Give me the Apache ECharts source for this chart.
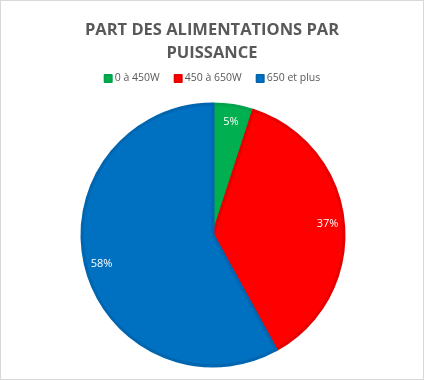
<!DOCTYPE html>
<html><head><meta charset="utf-8">
<script src="https://cdn.jsdelivr.net/npm/echarts@6/dist/echarts.min.js"></script>
<style>html,body{margin:0;padding:0;background:#fff}
#c{width:422px;height:378px;border:1px solid #D9D9D9}</style></head>
<body><div id="c"></div>
<script>
const categories = ['0 à 450W', '450 à 650W', '650 et plus'];
const values = [5, 37, 58];
const colors = ['#00B050', '#FF0000', '#0070C0'];
const borders = ['#00A34A', '#E60000', '#0066B0'];
const title = 'PART DES ALIMENTATIONS PAR\nPUISSANCE';

const chart = echarts.init(document.getElementById('c'));
const data = categories.map((n, i) => ({name: n, value: values[i],
  itemStyle: {color: colors[i], borderColor: borders[i]}}));
chart.setOption({
  animation: false,
  title: {text: title, left: 'center', top: 13,
    textStyle: {fontFamily: 'Open Sans', fontWeight: 'bold', fontSize: 16.5, color: '#595959', lineHeight: 23}},
  legend: {top: 67, left: 'center', itemWidth: 7, itemHeight: 7, itemGap: 14,
    icon: 'rect', textStyle: {fontFamily: 'Open Sans', fontSize: 10.5, color: '#595959', padding: [0,0,0,-2]}},
  series: [{
    type: 'pie', center: [212, 234], radius: [0, 131],
    startAngle: 90, clockwise: true, data: data,
    itemStyle: {borderWidth: 3},
    label: {show: false}, labelLine: {show: false}, emphasis: {disabled: true}
  }, {
    type: 'pie', center: [212, 234], radius: [93, 131], silent: true,
    startAngle: 90, clockwise: true,
    data: categories.map((n, i) => ({name: n, value: values[i]})),
    itemStyle: {color: 'rgba(0,0,0,0)'},
    label: {show: true, position: 'inside', formatter: '{c}%', color: '#fff',
      fontFamily: 'Open Sans', fontSize: 11},
    labelLine: {show: false}, emphasis: {disabled: true}
  }]
});
</script></body></html>
